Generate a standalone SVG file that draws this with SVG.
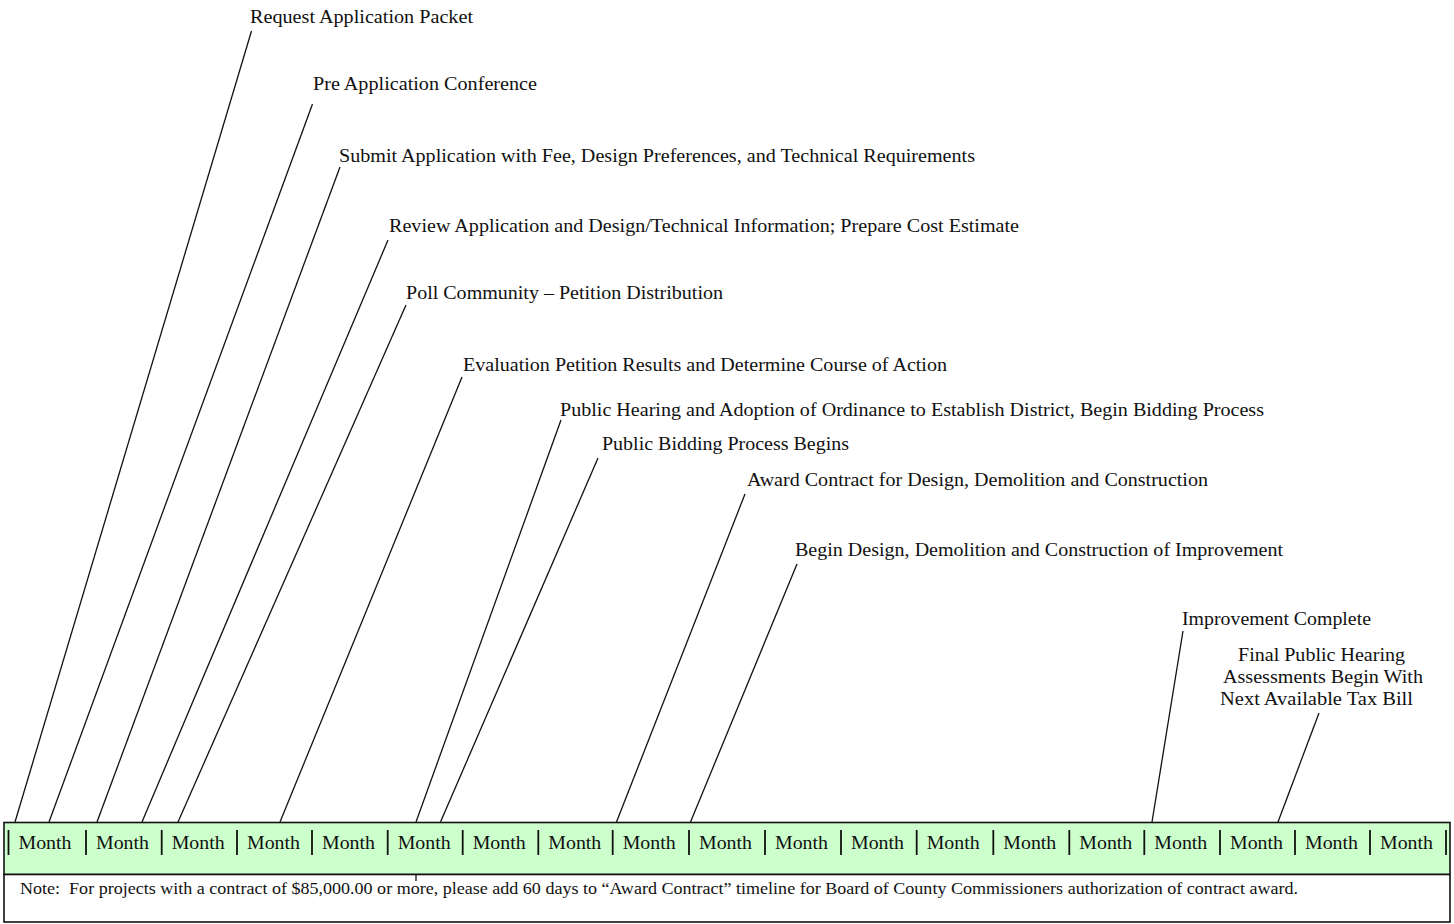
<svg xmlns="http://www.w3.org/2000/svg" width="1454" height="924" viewBox="0 0 1454 924">
<style>
.lbl{font-family:"Liberation Serif","Times New Roman",serif;font-size:19px;fill:#111}
.mon{font-family:"Liberation Serif","Times New Roman",serif;font-size:18px;fill:#111}
.note{font-family:"Liberation Serif","Times New Roman",serif;font-size:17px;fill:#111}
.ln{stroke:#111;stroke-width:1.3;fill:none}
.sep{stroke:#111;stroke-width:1.8}
</style>
<rect x="0" y="0" width="1454" height="924" fill="#fff"/>
<g id="bar">
<rect x="4" y="822.5" width="1446" height="52" fill="#ccffcc" stroke="#111" stroke-width="1.6"/>
<rect x="4" y="874.5" width="1446" height="47.5" fill="#fff" stroke="#111" stroke-width="1.6"/>
<g id="separators">
<line class="sep" x1="8.5" y1="830" x2="8.5" y2="855"/>
<line class="sep" x1="86" y1="830" x2="86" y2="855"/>
<line class="sep" x1="161.7" y1="830" x2="161.7" y2="855"/>
<line class="sep" x1="237" y1="830" x2="237" y2="855"/>
<line class="sep" x1="312" y1="830" x2="312" y2="855"/>
<line class="sep" x1="387.7" y1="830" x2="387.7" y2="855"/>
<line class="sep" x1="462.7" y1="830" x2="462.7" y2="855"/>
<line class="sep" x1="538.3" y1="830" x2="538.3" y2="855"/>
<line class="sep" x1="612.7" y1="830" x2="612.7" y2="855"/>
<line class="sep" x1="689" y1="830" x2="689" y2="855"/>
<line class="sep" x1="765" y1="830" x2="765" y2="855"/>
<line class="sep" x1="841" y1="830" x2="841" y2="855"/>
<line class="sep" x1="916.7" y1="830" x2="916.7" y2="855"/>
<line class="sep" x1="993.3" y1="830" x2="993.3" y2="855"/>
<line class="sep" x1="1069.3" y1="830" x2="1069.3" y2="855"/>
<line class="sep" x1="1144.3" y1="830" x2="1144.3" y2="855"/>
<line class="sep" x1="1220" y1="830" x2="1220" y2="855"/>
<line class="sep" x1="1295" y1="830" x2="1295" y2="855"/>
<line class="sep" x1="1370" y1="830" x2="1370" y2="855"/>
<line class="sep" x1="1446" y1="830" x2="1446" y2="855"/>
</g>
<g id="months">
<text class="mon" x="18.5" y="848.5" textLength="53" lengthAdjust="spacingAndGlyphs">Month</text>
<text class="mon" x="96" y="848.5" textLength="53" lengthAdjust="spacingAndGlyphs">Month</text>
<text class="mon" x="171.7" y="848.5" textLength="53" lengthAdjust="spacingAndGlyphs">Month</text>
<text class="mon" x="247" y="848.5" textLength="53" lengthAdjust="spacingAndGlyphs">Month</text>
<text class="mon" x="322" y="848.5" textLength="53" lengthAdjust="spacingAndGlyphs">Month</text>
<text class="mon" x="397.7" y="848.5" textLength="53" lengthAdjust="spacingAndGlyphs">Month</text>
<text class="mon" x="472.7" y="848.5" textLength="53" lengthAdjust="spacingAndGlyphs">Month</text>
<text class="mon" x="548.3" y="848.5" textLength="53" lengthAdjust="spacingAndGlyphs">Month</text>
<text class="mon" x="622.7" y="848.5" textLength="53" lengthAdjust="spacingAndGlyphs">Month</text>
<text class="mon" x="699" y="848.5" textLength="53" lengthAdjust="spacingAndGlyphs">Month</text>
<text class="mon" x="775" y="848.5" textLength="53" lengthAdjust="spacingAndGlyphs">Month</text>
<text class="mon" x="851" y="848.5" textLength="53" lengthAdjust="spacingAndGlyphs">Month</text>
<text class="mon" x="926.7" y="848.5" textLength="53" lengthAdjust="spacingAndGlyphs">Month</text>
<text class="mon" x="1003.3" y="848.5" textLength="53" lengthAdjust="spacingAndGlyphs">Month</text>
<text class="mon" x="1079.3" y="848.5" textLength="53" lengthAdjust="spacingAndGlyphs">Month</text>
<text class="mon" x="1154.3" y="848.5" textLength="53" lengthAdjust="spacingAndGlyphs">Month</text>
<text class="mon" x="1230" y="848.5" textLength="53" lengthAdjust="spacingAndGlyphs">Month</text>
<text class="mon" x="1305" y="848.5" textLength="53" lengthAdjust="spacingAndGlyphs">Month</text>
<text class="mon" x="1380" y="848.5" textLength="53" lengthAdjust="spacingAndGlyphs">Month</text>
</g>
<text id="note" class="note" x="20" y="894" textLength="1278" lengthAdjust="spacingAndGlyphs">Note:&#160; For projects with a contract of $85,000.00 or more, please add 60 days to “Award Contract” timeline for Board of County Commissioners authorization of contract award.</text>
</g>
<g id="connectors">
<line class="ln" x1="251.5" y1="31" x2="15" y2="822"/>
<line class="ln" x1="312.5" y1="104" x2="49" y2="822"/>
<line class="ln" x1="340" y1="167" x2="97" y2="822"/>
<line class="ln" x1="388" y1="240" x2="142" y2="822"/>
<line class="ln" x1="406" y1="305" x2="178" y2="822"/>
<line class="ln" x1="462" y1="377" x2="280" y2="822"/>
<line class="ln" x1="561" y1="420" x2="416" y2="822"/>
<line class="ln" x1="416" y1="874" x2="416" y2="881"/>
<line class="ln" x1="598" y1="458" x2="440.5" y2="822"/>
<line class="ln" x1="745" y1="494" x2="616.5" y2="822"/>
<line class="ln" x1="797" y1="564" x2="690.5" y2="822"/>
<line class="ln" x1="1183" y1="631" x2="1152" y2="822"/>
<line class="ln" x1="1319" y1="713" x2="1278" y2="822"/>
</g>
<g id="n1"><text class="lbl" x="250" y="23" textLength="223" lengthAdjust="spacingAndGlyphs">Request Application Packet</text></g>
<g id="n2"><text class="lbl" x="313" y="90" textLength="224" lengthAdjust="spacingAndGlyphs">Pre Application Conference</text></g>
<g id="n3"><text class="lbl" x="339" y="162" textLength="636" lengthAdjust="spacingAndGlyphs">Submit Application with Fee, Design Preferences, and Technical Requirements</text></g>
<g id="n4"><text class="lbl" x="389" y="232" textLength="630" lengthAdjust="spacingAndGlyphs">Review Application and Design/Technical Information; Prepare Cost Estimate</text></g>
<g id="n5"><text class="lbl" x="406" y="299" textLength="317" lengthAdjust="spacingAndGlyphs">Poll Community – Petition Distribution</text></g>
<g id="n6"><text class="lbl" x="463" y="371" textLength="484" lengthAdjust="spacingAndGlyphs">Evaluation Petition Results and Determine Course of Action</text></g>
<g id="n7"><text class="lbl" x="560" y="416" textLength="704" lengthAdjust="spacingAndGlyphs">Public Hearing and Adoption of Ordinance to Establish District, Begin Bidding Process</text></g>
<g id="n8"><text class="lbl" x="602" y="450" textLength="247" lengthAdjust="spacingAndGlyphs">Public Bidding Process Begins</text></g>
<g id="n9"><text class="lbl" x="747" y="486" textLength="461" lengthAdjust="spacingAndGlyphs">Award Contract for Design, Demolition and Construction</text></g>
<g id="n10"><text class="lbl" x="795" y="556" textLength="488" lengthAdjust="spacingAndGlyphs">Begin Design, Demolition and Construction of Improvement</text></g>
<g id="n11"><text class="lbl" x="1182" y="625" textLength="189" lengthAdjust="spacingAndGlyphs">Improvement Complete</text></g>
<g id="n12">
<text class="lbl" x="1238" y="661" textLength="167" lengthAdjust="spacingAndGlyphs">Final Public Hearing</text>
<text class="lbl" x="1223" y="683" textLength="200" lengthAdjust="spacingAndGlyphs">Assessments Begin With</text>
<text class="lbl" x="1220" y="705" textLength="193" lengthAdjust="spacingAndGlyphs">Next Available Tax Bill</text>
</g>
</svg>
